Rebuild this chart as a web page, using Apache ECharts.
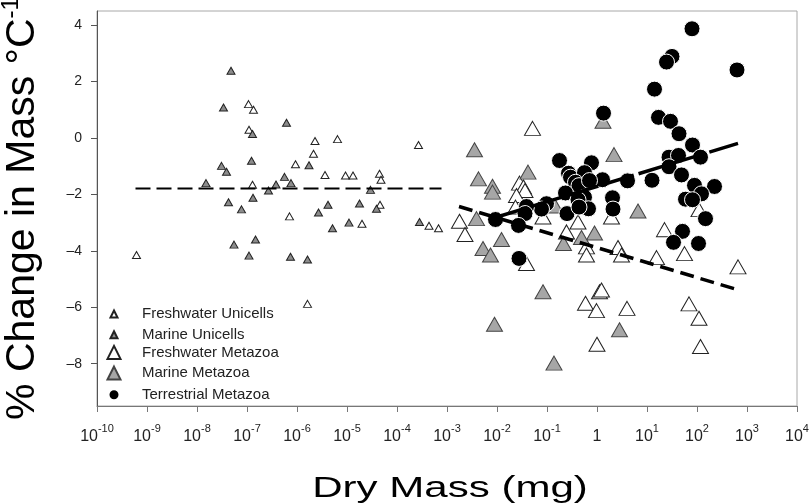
<!DOCTYPE html>
<html>
<head>
<meta charset="utf-8">
<script src="https://cdn.jsdelivr.net/npm/echarts@6/dist/echarts.min.js"></script>
<style>
  html, body { margin: 0; padding: 0; background: #fff; }
  #chart { width: 810px; height: 503px; }
</style>
</head>
<body>
<div id="chart"></div>
<script>
// x = log10 of dry mass (mg), y = % change in mass per degree C
var freshwaterUnicells = [
  [-9.21, -4.15], [-6.97, 1.20], [-6.87, 1.00], [-6.96, 0.29], [-5.64, -0.11],
  [-5.19, -0.04], [-5.67, -0.56], [-3.57, -0.25], [-6.03, -0.93], [-5.44, -1.31],
  [-5.03, -1.33], [-4.88, -1.33], [-4.35, -1.27], [-4.32, -1.48], [-6.89, -1.66],
  [-6.15, -2.78], [-4.34, -2.37], [-4.70, -3.04], [-3.36, -3.11], [-3.17, -3.20],
  [-5.79, -5.88]
];
var marineUnicells = [
  [-7.32, 2.38], [-7.47, 1.08], [-6.89, 0.14], [-6.21, 0.54], [-7.51, -0.99],
  [-7.41, -1.20], [-6.91, -0.81], [-5.76, -0.97], [-6.25, -1.38], [-7.82, -1.60],
  [-6.42, -1.65], [-6.12, -1.60], [-6.57, -1.86], [-4.53, -1.84], [-7.37, -2.28],
  [-6.88, -2.12], [-7.11, -2.53], [-5.57, -2.64], [-5.38, -2.37], [-4.75, -2.32],
  [-4.41, -2.51], [-5.29, -3.20], [-4.96, -3.00], [-3.55, -2.98], [-7.26, -3.78],
  [-6.83, -3.60], [-6.96, -4.17], [-6.13, -4.21], [-5.79, -4.31]
];
var freshwaterMetazoa = [
  [-1.29, 0.34], [-1.55, -1.60], [-1.47, -1.74], [-1.44, -1.86], [-1.61, -2.04],
  [-1.63, -2.45], [-2.75, -2.95], [-2.64, -3.42], [-1.08, -2.80], [-0.38, -2.98],
  [-0.61, -3.33], [0.29, -2.80], [2.04, -2.54], [1.35, -3.25], [0.42, -3.88],
  [0.49, -4.15], [1.19, -4.24], [1.75, -4.10], [2.82, -4.57], [-0.21, -3.86],
  [-0.21, -4.15], [-1.41, -4.45], [0.05, -5.45], [0.09, -5.39], [-0.23, -5.86],
  [-0.01, -6.12], [0.60, -6.04], [0.00, -7.31], [1.84, -5.88], [2.04, -6.39],
  [2.07, -7.39]
];
var marineMetazoa = [
  [-2.45, -0.42], [-2.37, -1.45], [-2.09, -1.71], [-2.09, -1.92], [-1.38, -1.21],
  [-2.41, -2.86], [-0.84, -2.41], [0.12, 0.59], [0.34, -0.59], [0.82, -2.59],
  [-0.05, -3.37], [-0.31, -3.53], [-0.67, -3.74], [-1.91, -3.60], [-2.28, -3.92],
  [-2.13, -4.15], [-1.08, -5.45], [-2.05, -6.60], [0.45, -6.80], [-0.86, -7.98]
];
var terrestrialMetazoa = [
  [1.90, 3.87], [1.50, 2.89], [1.39, 2.69], [2.80, 2.41], [1.15, 1.73],
  [0.13, 0.88], [1.23, 0.73], [1.47, 0.59], [1.64, 0.15], [1.91, -0.25],
  [-0.75, -0.80], [-0.11, -0.88], [1.44, -0.68], [1.63, -0.62], [2.07, -0.68],
  [1.44, -1.02], [1.69, -1.31], [0.61, -1.52], [1.10, -1.50], [0.11, -1.48],
  [-0.57, -1.25], [-0.53, -1.39], [-0.25, -1.23], [-0.43, -1.57], [-0.36, -1.69],
  [-0.15, -1.51], [1.95, -1.68], [2.35, -1.72], [2.09, -1.98], [-0.63, -1.95],
  [-0.25, -2.10], [0.31, -2.12], [-0.38, -2.19], [1.77, -2.17], [1.91, -2.19],
  [-1.01, -2.33], [-1.11, -2.52], [-1.41, -2.43], [-1.44, -2.68], [-0.60, -2.68],
  [-0.17, -2.51], [0.32, -2.52], [-0.36, -2.45], [-2.03, -2.89], [-1.57, -3.10],
  [2.17, -2.86], [1.71, -3.31], [1.53, -3.70], [2.03, -3.74], [-1.56, -4.27]
];

// fitted lines (end points)
var unicellFit = [[-9.23, -1.79], [-3.11, -1.79]];
var aquaticFit = [[-2.76, -2.43], [2.84, -5.39]];
var terrestrialFit = [[-2.0, -2.80], [2.82, -0.19]];

var seriesNames = ['Freshwater Unicells', 'Marine Unicells', 'Freshwater Metazoa', 'Marine Metazoa', 'Terrestrial Metazoa'];
var yTicks = [-8, -6, -4, -2, 0, 2, 4];

var chart = echarts.init(document.getElementById('chart'));
var font = 'Liberation Sans, Arial, sans-serif';

function fitLine(data, width, dash) {
  return {
    type: 'line', data: data, symbol: 'none', silent: true, z: 10,
    lineStyle: { color: '#000', width: width, type: dash }
  };
}

// one legend block per entry, so each icon can have its own size
var legendSizes = [7, 7, 13, 13, 11];
var legends = seriesNames.map(function (name, i) {
  var s = legendSizes[i];
  return {
    data: [name], selectedMode: false, padding: 0,
    left: 113 - s / 2, top: 310 + i * 20.7 - s / 2,
    itemWidth: s, itemHeight: s,
    textStyle: { fontSize: 15, color: '#222', fontFamily: font, padding: [0, 0, 0, 141 - (113 + s / 2) - 5] }
  };
});

var option = {
  animation: false,
  backgroundColor: '#fff',
  grid: {
    left: 97, right: 13, top: 11, bottom: 97, outerBoundsMode: 'none',
    show: true, borderColor: '#a8a8a8', borderWidth: 1
  },
  legend: legends,
  xAxis: {
    type: 'value', min: -10, max: 4, interval: 1,
    axisLine: { onZero: false, lineStyle: { color: '#777' } },
    axisTick: { inside: false, length: 6, lineStyle: { color: '#777' } },
    splitLine: { show: false },
    axisLabel: {
      margin: 17, color: '#222', fontFamily: font,
      formatter: function (v) {
        var e = Math.round(v);
        return e === 0 ? '{one|1}' : '{b|10}{sup|' + e + '}';
      },
      rich: {
        b: { fontSize: 16, lineHeight: 22, verticalAlign: 'bottom', fontFamily: font, color: '#222' },
        one: { fontSize: 16, lineHeight: 22, verticalAlign: 'bottom', padding: [4, 0, 0, 0], fontFamily: font, color: '#222' },
        sup: { fontSize: 11, lineHeight: 12, verticalAlign: 'top', fontFamily: font, color: '#222' }
      }
    }
  },
  yAxis: {
    type: 'value', min: -9.5, max: 4.5,
    name: '% Change in Mass \u00b0C{sup|-1}',
    nameLocation: 'middle', nameRotate: 90, nameGap: 50,
    nameTextStyle: {
      fontSize: 41, color: '#000', fontFamily: font, lineHeight: 48,
      rich: { sup: { fontSize: 24, lineHeight: 24, verticalAlign: 'top', color: '#000', fontFamily: font } }
    },
    axisLine: { onZero: false, lineStyle: { color: '#555' } },
    axisTick: { length: 6, customValues: yTicks, lineStyle: { color: '#555' } },
    splitLine: { show: false },
    axisLabel: {
      margin: 15, fontSize: 14, color: '#222', fontFamily: font, customValues: yTicks,
      formatter: function (v) { return String(v).replace('-', '\u2013'); }
    }
  },
  graphic: [{
    type: 'text', x: 450, y: 474, scaleX: 1.45, scaleY: 1, silent: true,
    style: { text: 'Dry Mass (mg)', fontSize: 29, fill: '#000', fontFamily: font, textAlign: 'center', textVerticalAlign: 'top' }
  }],
  series: [
    {
      name: seriesNames[0], type: 'scatter', data: freshwaterUnicells, symbol: 'triangle', symbolSize: [8, 7],
      itemStyle: { color: '#fff', borderColor: '#222', borderWidth: 1, opacity: 1 }
    },
    {
      name: seriesNames[1], type: 'scatter', data: marineUnicells, symbol: 'triangle', symbolSize: [8, 7],
      itemStyle: { color: '#8c8c8c', borderColor: '#222', borderWidth: 1, opacity: 1 }
    },
    {
      name: seriesNames[2], type: 'scatter', data: freshwaterMetazoa, symbol: 'triangle', symbolSize: [16, 14],
      itemStyle: { color: '#fff', borderColor: '#222', borderWidth: 1, opacity: 1 }
    },
    {
      name: seriesNames[3], type: 'scatter', data: marineMetazoa, symbol: 'triangle', symbolSize: [16, 14],
      itemStyle: { color: '#a6a6a6', borderColor: '#444', borderWidth: 1, opacity: 1 }
    },
    {
      name: seriesNames[4], type: 'scatter', data: terrestrialMetazoa, symbol: 'circle', symbolSize: 16,
      itemStyle: { color: '#000', borderColor: '#fff', borderWidth: 1, opacity: 1 }
    },
    fitLine(unicellFit, 2, [15, 6]),
    fitLine(aquaticFit, 3.5, [14, 7]),
    fitLine(terrestrialFit, 3.5, [32, 5])
  ]
};

chart.setOption(option);
</script>
</body>
</html>
